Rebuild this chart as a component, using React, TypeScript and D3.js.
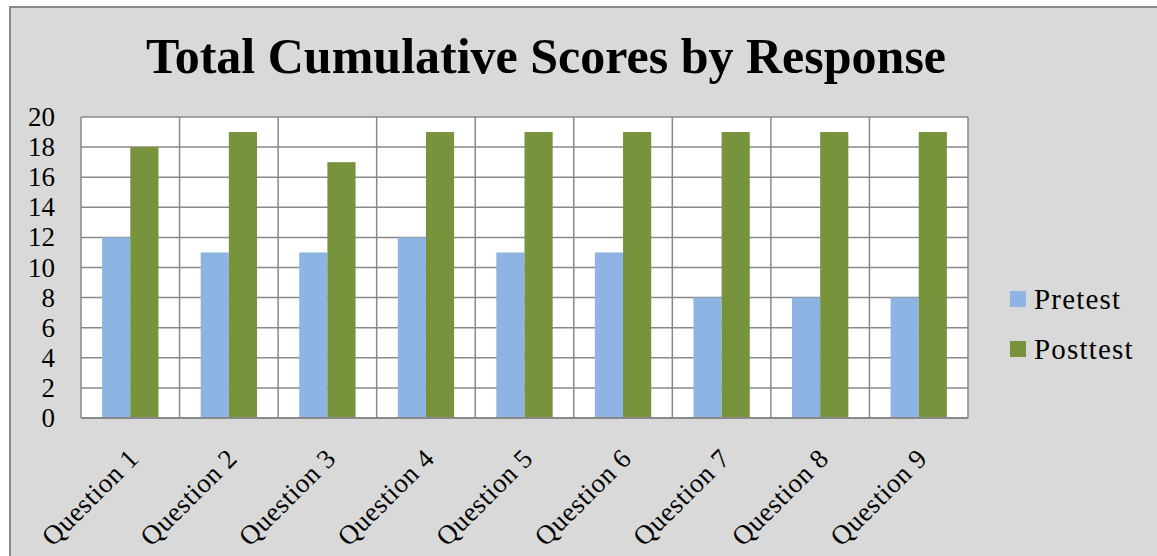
import React from "react";
import * as d3 from "d3";

const categories = ["Question 1", "Question 2", "Question 3", "Question 4", "Question 5", "Question 6", "Question 7", "Question 8", "Question 9"];
const seriesNames = ["Pretest", "Posttest"];
const pretest = [12, 11, 11, 12, 11, 11, 8, 8, 8];
const posttest = [18, 19, 17, 19, 19, 19, 19, 19, 19];
const yTicks = [0, 2, 4, 6, 8, 10, 12, 14, 16, 18, 20];
const colors = ["#8EB4E3", "#77933C"];
const title = "Total Cumulative Scores by Response";

const W = 1157, H = 556;
const plot = { left: 81, right: 968, top: 117, bottom: 418 };
const font = "'Liberation Serif', 'Times New Roman', serif";

export default function App() {
  const x0 = d3.scaleBand<string>().domain(categories).range([plot.left, plot.right]).paddingInner(0).paddingOuter(0);
  const x1 = d3.scaleBand<string>().domain(seriesNames).range([0, x0.bandwidth()]).paddingInner(0).paddingOuter(0.75);
  const y = d3.scaleLinear().domain([0, 20]).range([plot.bottom, plot.top]);
  const values = [pretest, posttest];
  const grid = "#898989";

  return (
    <svg width={W} height={H} style={{ position: "absolute", left: 0, top: 0 }} fontFamily={font}>
      <rect x={0} y={0} width={W} height={H} fill="#ffffff" />
      <rect x={10} y={7} width={W + 20} height={H + 20} fill="#d9d9d9" stroke="#898989" strokeWidth={2} />
      <text x={546} y={73} textAnchor="middle" fontSize={50} fontWeight="bold" fill="#000">{title}</text>
      <rect x={plot.left} y={plot.top} width={plot.right - plot.left} height={plot.bottom - plot.top} fill="#ffffff" />
      {yTicks.map((t) => (
        <line key={"h" + t} x1={plot.left} x2={plot.right} y1={y(t)} y2={y(t)} stroke={grid} strokeWidth={1.5} />
      ))}
      {categories.map((c) => (
        <line key={"v" + c} x1={x0(c)!} x2={x0(c)!} y1={plot.top} y2={plot.bottom} stroke={grid} strokeWidth={1.5} />
      ))}
      <line x1={plot.right} x2={plot.right} y1={plot.top} y2={plot.bottom} stroke={grid} strokeWidth={1.5} />
      {categories.map((c, i) =>
        seriesNames.map((s, j) => (
          <rect key={c + s} x={x0(c)! + x1(s)!} y={y(values[j][i])} width={x1.bandwidth()} height={y(0) - y(values[j][i])} fill={colors[j]} />
        ))
      )}
      <line x1={plot.left} x2={plot.right} y1={y(0)} y2={y(0)} stroke={grid} strokeWidth={2} />
      {yTicks.map((t) => (
        <text key={"yl" + t} x={55} y={y(t) + 9} textAnchor="end" fontSize={27} fill="#000">{t}</text>
      ))}
      {categories.map((c) => {
        const cx = x0(c)! + x0.bandwidth() / 2 + 10;
        const cy = plot.bottom + 42;
        return (
          <text key={"xl" + c} x={cx} y={cy} textAnchor="end" fontSize={27} letterSpacing={0.6} fill="#000" transform={`rotate(-45, ${cx}, ${cy})`}>{c}</text>
        );
      })}
      {seriesNames.map((s, j) => (
        <g key={"lg" + s}>
          <rect x={1010} y={291 + j * 50} width={16} height={16} fill={colors[j]} />
          <text x={1034} y={309 + j * 50} fontSize={29} letterSpacing={1.2} fill="#000">{s}</text>
        </g>
      ))}
    </svg>
  );
}
